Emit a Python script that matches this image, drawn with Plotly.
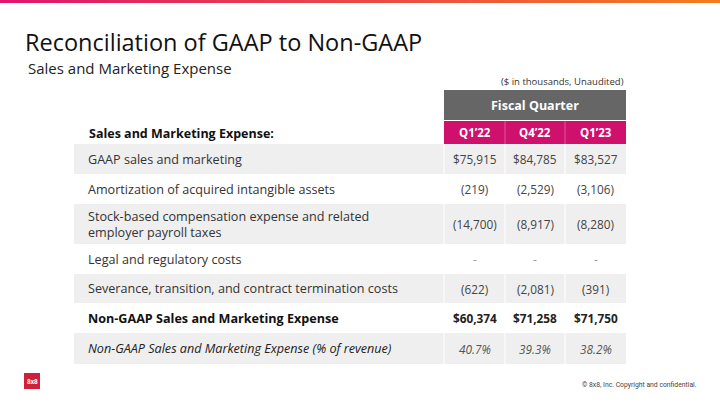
import plotly.graph_objects as go

# ---------------- data ----------------
title = "Reconciliation of GAAP to Non-GAAP"
subtitle = "Sales and Marketing Expense"
units_note = "($ in thousands, Unaudited)"
group_header = "Fiscal Quarter"
section_label = "Sales and Marketing Expense:"
quarters = ["Q1\u201922", "Q4\u201922", "Q1\u201923"]
row_labels = [
    "GAAP sales and marketing",
    "Amortization of acquired intangible assets",
    "Stock-based compensation expense and related<br>employer payroll taxes",
    "Legal and regulatory costs",
    "Severance, transition, and contract termination costs",
    "Non-GAAP Sales and Marketing Expense",
    "Non-GAAP Sales and Marketing Expense (% of revenue)",
]
row_kind = ["dollar", "neg", "neg", "neg", "neg", "dollar_bold", "pct"]
q1_22 = [75915, -219, -14700, None, -622, 60374, 40.7]
q4_22 = [84785, -2529, -8917, None, -2081, 71258, 39.3]
q1_23 = [83527, -3106, -8280, None, -391, 71750, 38.2]
footer = "\u00a9 8x8, Inc. Copyright and confidential."
logo_text = "8x8"

# ---------------- layout constants ----------------
W, H = 720, 405
FONT = "Open Sans"
x_table_left, x_table_right = 74, 626
col_edges = [444, 505, 565, 626]
row_heights = [30, 30, 40, 30, 29, 30, 31]
row_top0 = 144
PINK = "#d0106d"
GRAYHDR = "#666666"
ROWGRAY = "#efefef"
LABEL_SIZE = 12.6
NUM_SIZE = 11.8


def fmt(v, kind):
    if v is None:
        return "-"
    if kind == "pct":
        return f"{v:.1f}%"
    if v < 0:
        return f"({abs(v):,.0f})"
    return f"${v:,.0f}"


fig = go.Figure()
shapes = []
ann = []

# top gradient bar (series of thin rects)
n_steps = 60
c0 = (224, 22, 109)
c1 = (244, 124, 32)
for i in range(n_steps):
    t = i / (n_steps - 1)
    c = tuple(int(c0[k] + (c1[k] - c0[k]) * t) for k in range(3))
    shapes.append(dict(type="rect", xref="x", yref="y", x0=W * i / n_steps, x1=W * (i + 1) / n_steps + 0.5,
                       y0=0, y1=3, fillcolor=f"rgb{c}", line_width=0, layer="below"))

# title + subtitle
ann.append(dict(x=23, y=41.5, text=title, xanchor="left", yanchor="middle", showarrow=False,
                font=dict(family=FONT, size=23.5, color="#111111")))
ann.append(dict(x=26, y=67.5, text=subtitle, xanchor="left", yanchor="middle", showarrow=False,
                font=dict(family=FONT, size=15, color="#222222")))
ann.append(dict(x=626, y=81.5, text=units_note, xanchor="right", yanchor="middle", showarrow=False,
                font=dict(family=FONT, size=9.5, color="#333333")))

# header boxes
shapes.append(dict(type="rect", xref="x", yref="y", x0=col_edges[0], x1=col_edges[-1], y0=90, y1=120,
                   fillcolor=GRAYHDR, line_width=0))
shapes.append(dict(type="rect", xref="x", yref="y", x0=col_edges[0], x1=col_edges[-1], y0=121, y1=144,
                   fillcolor=PINK, line_width=0))
ann.append(dict(x=(col_edges[0] + col_edges[-1]) / 2, y=105, text=f"<b>{group_header}</b>", showarrow=False,
                xanchor="center", yanchor="middle", font=dict(family=FONT, size=12.5, color="white")))
for i, q in enumerate(quarters):
    ann.append(dict(x=(col_edges[i] + col_edges[i + 1]) / 2, y=132.5, text=f"<b>{q}</b>", showarrow=False,
                    xanchor="center", yanchor="middle", font=dict(family=FONT, size=11.5, color="white")))
for xe in col_edges[1:-1]:
    shapes.append(dict(type="line", xref="x", yref="y", x0=xe, x1=xe, y0=121, y1=144,
                       line=dict(color="#e0579a", width=1)))
ann.append(dict(x=87, y=133, text=f"<b>{section_label}</b>", xanchor="left", yanchor="middle", showarrow=False,
                font=dict(family=FONT, size=12.5, color="#111111")))

# body rows
y = row_top0
series = [q1_22, q4_22, q1_23]
for r, lab in enumerate(row_labels):
    h = row_heights[r]
    if r % 2 == 0:
        shapes.append(dict(type="rect", xref="x", yref="y", x0=x_table_left, x1=x_table_right, y0=y, y1=y + h,
                           fillcolor=ROWGRAY, line_width=0))
        for xe in col_edges[:-1]:
            shapes.append(dict(type="line", xref="x", yref="y", x0=xe, x1=xe, y0=y, y1=y + h,
                               line=dict(color="white", width=1)))
    kind = row_kind[r]
    cy = y + h / 2
    if kind == "dollar_bold":
        ltxt, lcol = f"<b>{lab}</b>", "#111111"
    elif kind == "pct":
        ltxt, lcol = f"<i>{lab}</i>", "#222222"
    else:
        ltxt, lcol = lab, "#333333"
    ann.append(dict(x=86, y=cy, text=ltxt, xanchor="left", yanchor="middle", align="left", showarrow=False,
                    font=dict(family=FONT, size=LABEL_SIZE, color=lcol)))
    for c, s in enumerate(series):
        v = s[r]
        t = fmt(v, "pct" if kind == "pct" else "num")
        col = "#444444"
        if kind == "dollar_bold":
            t = f"<b>{t}</b>"
            col = "#222222"
        elif kind == "pct":
            t = f"<i>{t}</i>"
            col = "#555555"
        if v is None:
            col = "#999999"
        ann.append(dict(x=(col_edges[c] + col_edges[c + 1]) / 2, y=cy, text=t, xanchor="center",
                        yanchor="middle", showarrow=False, font=dict(family=FONT, size=NUM_SIZE, color=col)))
    y += h

# logo
shapes.append(dict(type="rect", xref="x", yref="y", x0=24, x1=40, y0=373, y1=389, fillcolor="#d0213a",
                   line_width=0))
ann.append(dict(x=32, y=381.5, text=f"<b>{logo_text}</b>", showarrow=False, xanchor="center", yanchor="middle",
                font=dict(family="Roboto", size=6.5, color="white")))
# footer
ann.append(dict(x=699, y=385, text=footer, showarrow=False, xanchor="right", yanchor="middle",
                font=dict(family="Roboto", size=6.8, color="#444444")))

fig.update_layout(
    width=W, height=H, margin=dict(l=0, r=0, t=0, b=0),
    paper_bgcolor="white", plot_bgcolor="white",
    xaxis=dict(range=[0, W], visible=False, fixedrange=True),
    yaxis=dict(range=[H, 0], visible=False, fixedrange=True),
    shapes=shapes, annotations=ann, showlegend=False,
)
fig.write_html("out.html", config={"displayModeBar": False},
               post_script="document.body.style.margin='0';document.body.style.overflow='hidden';")
